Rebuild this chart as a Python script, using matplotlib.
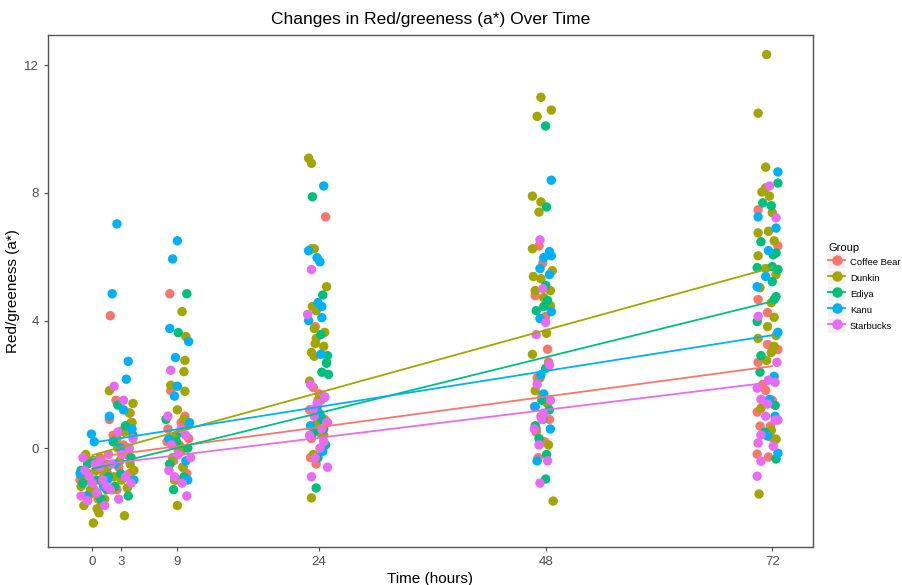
import matplotlib
matplotlib.use("Agg")
import matplotlib.pyplot as plt
from matplotlib.lines import Line2D
from matplotlib.patches import Patch
from matplotlib.legend_handler import HandlerTuple

plt.rcParams['font.family'] = ['Liberation Sans', 'DejaVu Sans']

groups = ["Coffee Bear", "Dunkin", "Ediya", "Kanu", "Starbucks"]
colors = ["#F8766D", "#A3A500", "#00BF7D", "#00B0F6", "#E76BF3"]
time_ticks = [0, 3, 9, 24, 48, 72]

# jittered time (hours) and a* values
bear_x = [-0.8, 0.5, 1.2, -1.1, 0.2, 1.6, -0.4, 0.9, -1.3, 0.6, 0.0, 1.4,
          1.9, 2.5, 3.0, 4.1, 2.2, 3.6, 2.8, 4.3, 1.8, 3.3, 2.6, 4.0, 3.9,
          8.2, 8.3, 9.8, 8.0, 10.2, 9.1, 8.6, 10.0, 9.4, 8.9, 7.9, 9.6, 9.2,
          24.7, 23.6, 24.8, 23.4, 24.2, 23.0, 24.6, 23.9, 23.2, 24.4, 23.1, 24.0, 23.7, 24.9, 23.5, 24.3,
          47.3, 47.7, 46.9, 48.0, 48.2, 47.1, 47.6, 46.8, 48.4, 47.0, 47.9, 47.2, 48.3, 47.5,
          70.5, 72.6, 70.5, 71.5, 71.5, 72.6, 70.5, 71.3, 70.4, 70.7, 71.8, 71.9, 70.4, 71.6, 71.0, 72.0]
bear_y = [-0.3, -0.6, -0.9, -1.1, -1.3, -0.8, -1.5, -0.5, -1.0, -1.6, -0.4, -1.2,
          4.15, 1.5, 0.53, 0.8, 0.4, -0.2, -0.6, -1.0, 0.9, 0.1, -1.3, 1.1, -0.8,
          4.84, 1.8, 1.0, 0.6, 0.3, -0.1, -0.4, -0.8, 0.8, -1.0, 0.2, -0.6, 0.0,
          7.25, 3.81, 2.69, 1.9, 1.5, 1.2, 0.9, 0.6, 0.3, 0.0, -0.3, 1.7, -0.5, 0.8, 1.1, 0.4,
          6.34, 5.8, 4.78, 4.13, 3.1, 2.2, 1.6, 1.3, 0.9, 0.5, 0.2, -0.3, 2.7, 1.0,
          7.47, 6.34, 4.66, 4.25, 3.25, 3.09, 2.69, 1.81, 1.13, 0.69, 0.69, 0.34, -0.19, -0.28, 2.0, 1.5]

dunkin_x = [0.1, 0.7, -0.9, 1.3, 0.3, -1.2, 0.9, -0.4, 1.6, 0.0, -0.7, 0.6, 1.1, -1.1, 0.4, -0.2, 1.4, 1.0, 0.8, -0.6, 0.5, -0.3, 1.2,
            1.8, 3.9, 4.2, 3.4, 2.4, 3.8, 2.9, 4.4, 3.1, 2.1, 3.4, 2.7, 4.0, 3.6, 4.3, 2.3, 3.7, 2.6,
            9.5, 9.9, 9.8, 9.7, 8.3, 9.8, 9.0, 9.7, 8.9, 9.2, 8.5, 9.6, 8.7, 9.0, 10.0, 9.4, 8.2,
            22.9, 23.2, 23.2, 23.5, 24.8, 23.3, 23.7, 23.5, 24.6, 23.7, 23.6, 24.5, 23.2, 23.5, 23.0, 23.9, 24.2, 24.5, 23.4, 23.2, 23.8,
            47.5, 48.6, 47.1, 46.6, 47.5, 47.3, 46.6, 48.7, 46.7, 47.5, 46.9, 48.5, 47.8, 48.5, 48.1, 46.6, 47.4, 48.2, 47.0, 48.3, 48.8, 46.9,
            71.4, 70.5, 71.3, 71.3, 70.9, 71.7, 72.0, 71.6, 70.5, 72.2, 70.5, 71.3, 72.4, 70.7, 71.9, 72.2, 71.5, 72.4, 70.5, 72.2, 71.9, 71.4, 70.8, 71.9, 72.4, 70.6]
dunkin_y = [-2.35, -2.03, -1.8, -1.6, -1.4, -1.2, -1.0, -0.8, -0.6, -0.4, -0.2, -1.5, -1.1, -0.9, -0.7, -1.3, -0.5, -1.7, -0.3, -1.0, -1.9, -1.45, -0.75,
            1.8, 1.1, 0.8, 0.5, 0.2, -0.1, -0.4, -0.7, -1.0, -1.3, -2.12, 0.0, -0.5, 0.6, 1.4, -0.9, -1.25, 0.3,
            4.28, 3.5, 2.75, 2.4, 1.97, 1.78, 1.2, 0.9, 0.4, 0.1, -0.3, -0.6, -1.0, -1.8, 0.7, -0.1, -0.5,
            9.09, 8.93, 6.25, 6.25, 5.06, 4.44, 4.31, 3.75, 3.63, 3.44, 3.28, 3.19, 3.0, 2.88, 2.1, 1.5, 1.0, 0.4, -0.2, -1.56, 0.8,
            11.0, 10.6, 10.4, 7.9, 7.72, 7.4, 6.25, 5.56, 5.38, 5.31, 4.94, 4.94, 4.72, 4.47, 3.6, 2.94, 2.2, 1.4, 0.6, 0.1, -1.66, 1.8,
            12.34, 10.5, 8.81, 8.16, 8.03, 7.9, 7.38, 6.8, 6.75, 6.5, 6.03, 5.63, 5.44, 5.03, 4.56, 4.1, 3.81, 3.53, 3.44, 3.19, 3.0, 2.75, 1.25, 0.56, 0.28, -1.44]

ediya_x = [-1.2, 0.4, 1.5, -0.5, 0.9, 1.7, -1.0, 0.2,
           2.7, 3.5, 2.2, 4.1, 3.0, 2.4, 4.3, 3.8,
           10.0, 9.1, 7.8, 9.3, 10.1, 8.2, 9.7, 8.6, 8.9,
           23.3, 24.4, 24.2, 24.9, 24.8, 24.3, 25.0, 23.8, 24.3, 23.5, 24.7, 23.9, 23.7, 24.5, 24.1,
           48.0, 48.1, 48.0, 48.2, 47.8, 47.0, 48.0, 47.6, 48.4, 46.9, 47.3, 48.1, 48.0, 47.7,
           72.6, 71.0, 71.9, 70.8, 72.4, 72.1, 72.0, 70.4, 72.6, 72.0, 72.4, 72.2, 70.4, 70.8, 70.7, 72.3, 72.4, 71.2]
ediya_y = [-0.7, -1.0, -1.3, -0.5, -1.6, -0.9, -1.1, -0.4,
           1.35, 0.7, 0.2, -0.3, -0.8, -1.2, 0.4, -1.5,
           4.84, 3.62, 0.9, 0.5, 0.0, -0.5, -0.9, -1.3, 0.2,
           7.88, 4.8, 3.56, 2.9, 2.66, 2.38, 2.31, 1.3, 0.9, 0.5, 0.1, -0.3, -1.25, 0.6, 1.0,
           10.1, 7.56, 5.1, 4.63, 4.44, 4.31, 2.5, 1.5, 1.2, 0.7, 0.3, -0.2, -0.97, 0.9,
           8.31, 7.69, 7.6, 6.47, 6.12, 6.06, 5.69, 5.66, 5.6, 5.22, 4.75, 4.66, 3.97, 2.9, 2.38, 1.34, -0.34, 0.5]

kanu_x = [-0.1, 0.2, -1.3, 1.2, 0.7, -0.6, 1.6,
          2.6, 2.1, 3.8, 3.6, 1.8, 4.2, 3.0, 2.4, 4.4, 3.3,
          9.0, 8.5, 8.2, 10.2, 8.8, 9.0, 8.7, 10.3, 8.1, 9.9, 10.1,
          24.5, 22.9, 23.8, 24.1, 23.9, 24.3, 24.3, 22.9, 24.2, 24.6, 23.1, 24.4, 24.0,
          48.6, 48.4, 48.6, 47.8, 47.4, 48.4, 48.6, 47.4, 47.5, 46.9, 48.5, 47.1, 47.8,
          72.6, 70.5, 72.4, 71.6, 71.3, 70.4, 72.6, 72.2, 71.7, 71.5, 72.6, 72.3]
kanu_y = [0.44, 0.2, -0.8, -1.2, -0.5, -1.5, -1.0,
          7.03, 4.84, 2.72, 2.16, 1.0, 0.6, 0.0, -0.5, -1.0, 1.2,
          6.5, 5.93, 3.75, 3.34, 2.84, 1.94, 1.63, 0.8, 0.3, -0.4, -1.0,
          8.22, 6.19, 5.97, 5.84, 4.56, 4.44, 4.09, 4.0, 2.94, 1.6, 0.7, -0.1, 1.1,
          8.4, 6.16, 6.03, 5.97, 5.63, 5.44, 4.28, 4.06, 2.3, 1.3, 0.6, -0.4, 1.7,
          8.66, 7.25, 6.9, 6.19, 5.38, 5.06, 3.63, 2.25, 1.53, 0.38, -0.16, 1.0]

starbucks_x = [-1.0, 0.8, -0.3, 1.5, -1.2, 0.3, 1.1, 0.5, -0.8, 1.3, 1.7, 0.0, -0.5, 0.9,
               2.3, 3.3, 2.7, 3.9, 2.0, 3.5, 1.9, 2.8, 4.3, 4.1, 3.1,
               8.3, 8.0, 9.4, 8.4, 10.4, 8.1, 9.5, 10.0, 9.9, 8.7, 9.1,
               23.2, 22.8, 23.1, 24.6, 23.4, 24.8, 23.0, 24.1, 23.6, 24.9, 23.2, 23.8, 24.5, 24.3, 23.5,
               47.4, 47.7, 48.0, 47.0, 48.4, 47.1, 48.5, 47.8, 46.8, 47.3, 48.2, 47.4, 47.6,
               71.7, 72.4, 70.5, 72.5, 71.6, 72.3, 70.4, 70.8, 71.5, 72.3, 72.6, 70.8, 70.5, 72.1, 70.8, 70.4, 71.3]
starbucks_y = [-0.3, -0.6, -0.9, -1.2, -1.5, -0.5, -1.0, -1.4, -0.7, -1.8, -0.2, -1.1, -1.65, -0.35,
               1.94, 1.5, 0.5, 0.0, -0.5, -0.9, -1.3, -1.6, 0.3, -1.1, -0.2,
               2.44, 1.0, 0.6, 0.1, -0.3, -0.7, -1.1, -1.5, 0.4, -0.9, -0.2,
               5.6, 4.19, 2.0, 1.6, 1.2, 0.8, 0.4, 0.0, -0.3, -0.6, -0.9, 1.4, 0.2, 0.6, 1.0,
               6.53, 5.0, 3.94, 3.56, 2.6, 2.0, 1.5, 1.1, 0.6, 0.1, -0.4, -1.1, 0.9,
               8.22, 7.22, 4.13, 2.69, 2.13, 2.06, 1.88, 1.53, 1.38, 0.88, 0.88, 0.41, 0.16, 0.06, -0.41, -0.88, 1.0]

# linear fit lines (value at 0 h and 72 h)
fit_start = [-0.30, -0.22, -0.65, 0.17, -0.55]
fit_end = [2.57, 5.66, 4.60, 3.54, 2.07]

xs = [bear_x, dunkin_x, ediya_x, kanu_x, starbucks_x]
ys = [bear_y, dunkin_y, ediya_y, kanu_y, starbucks_y]

fig = plt.figure(figsize=(9.02, 5.85), dpi=100)
ax = fig.add_axes([0.0532, 0.065, 0.848, 0.875])

for g, c, x, y in zip(groups, colors, xs, ys):
    ax.scatter(x, y, s=46, color=c, edgecolors='none', zorder=2)

for c, a, b in zip(colors, fit_start, fit_end):
    ax.plot([0, 72], [a, b], color=c, lw=1.3, zorder=3)

ax.set_xlim(-4.7, 76.3)
ax.set_ylim(-3.1, 12.95)
ax.set_xticks(time_ticks)
ax.set_yticks([0, 4, 8, 12])
ax.tick_params(colors='#4D4D4D', labelsize=9.5, length=3, width=0.8)
for sp in ax.spines.values():
    sp.set_color('#555555')
    sp.set_linewidth(1.0)

ax.set_title("Changes in Red/greeness (a*) Over Time", fontsize=12.5, pad=8)
ax.set_xlabel("Time (hours)", fontsize=11, labelpad=3)
ax.set_ylabel("Red/greeness (a*)", fontsize=11, labelpad=3)

handles = [(Patch(facecolor='#F2F2F2', edgecolor='none'),
            Line2D([0], [0], color=c, marker='o', markersize=6.5, lw=1.3)) for c in colors]
leg = fig.legend(handles, groups, title="Group", loc='upper left',
                 bbox_to_anchor=(0.914, 0.591), frameon=False, fontsize=6.8,
                 title_fontsize=8, handlelength=1.8, handleheight=2.0,
                 labelspacing=0.15, handletextpad=0.5, borderaxespad=0,
                 handler_map={tuple: HandlerTuple(ndivide=1, pad=0)})
leg._legend_box.align = "left"

fig.savefig("out.png", dpi=100)
